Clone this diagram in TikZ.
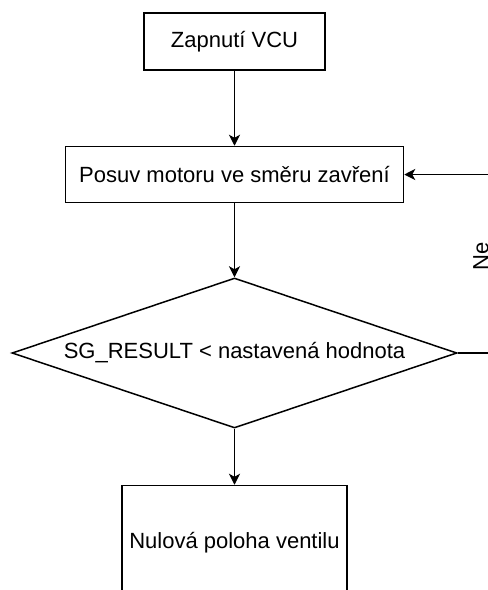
\documentclass[tikz,border=0pt]{standalone}
\usepackage{fontspec}
\setmainfont{Liberation Sans}
\usetikzlibrary{positioning,shapes.geometric,arrows.meta}
\begin{document}
\begin{tikzpicture}[x=1pt,y=1pt,line width=1.5pt,>={Stealth[length=11pt,width=11pt,inset=3pt]},
                    main/.style = {draw, rectangle, inner sep=0pt, font=\fontsize{22}{26}\selectfont},
                    cond/.style = {draw, diamond, aspect=3, inner sep=0pt, minimum width=445pt, minimum height=150pt, font=\fontsize{22}{26}\selectfont}]
                    \useasboundingbox (0,0) rectangle (488,-590);
                    \node[main, minimum width=181pt, minimum height=57pt] (1) at (234.5,-41.5) {Zapnutí VCU};
                    \node[main, minimum width=338pt, minimum height=56pt] (2) [below=75pt of 1] {Posuv motoru ve směru zavření};
                    \node[cond] (3) [below=74pt of 2] {SG\_RESULT < nastavená hodnota};
                    \node[main, minimum width=225pt, minimum height=114pt] (4) [below=56pt of 3] {Nulová poloha ventilu};
                    \node[rotate=90, inner sep=0pt, font=\fontsize{22}{26}\selectfont] (ne) at (481,-256.5) {Ne};

                    \draw[->] (1) -- (2);
                    \draw[->] (2) -- (3);
                    \draw[->] (3) -- (4);
                    \draw[->] (3.east) -- ++(45,0) |- (2.east);
                \end{tikzpicture}
\end{document}
